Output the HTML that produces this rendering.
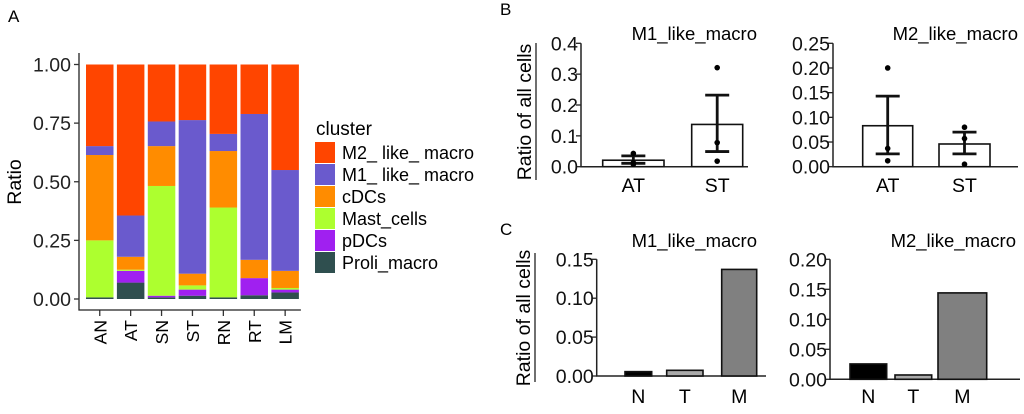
<!DOCTYPE html>
<html><head><meta charset="utf-8">
<style>
html,body{margin:0;padding:0;background:#fff;}
svg{display:block;font-family:"Liberation Sans",Arial,sans-serif;}
</style></head>
<body>
<svg id="fig" width="1024" height="414" viewBox="0 0 1024 414" xmlns="http://www.w3.org/2000/svg">
<text x="8" y="22" font-size="17">A</text>
<text x="500" y="15" font-size="17">B</text>
<text x="500" y="235" font-size="17">C</text>
</svg>
<script>
const NS="http://www.w3.org/2000/svg";
const svg=document.getElementById('fig');
function mk(tag,attrs,parent,txt){const e=document.createElementNS(NS,tag);for(const k in attrs)e.setAttribute(k,attrs[k]);if(txt!==undefined)e.textContent=txt;(parent||svg).appendChild(e);return e;}

// ---------- Panel A data ----------
const aCategories=["AN","AT","SN","ST","RN","RT","LM"];
const aClusters=["Proli_macro","pDCs","Mast_cells","cDCs","M1_ like_ macro","M2_ like_ macro"];
const aProli=[0.007,0.07,0.007,0.014,0.007,0.016,0.028];
const aPDCs=[0.0,0.05,0.007,0.026,0.0,0.073,0.012];
const aMast=[0.243,0.005,0.468,0.018,0.383,0.0,0.007];
const aCDCs=[0.364,0.055,0.17,0.05,0.241,0.078,0.073];
const aM1=[0.038,0.176,0.105,0.655,0.073,0.622,0.43];
const aM2=[0.348,0.644,0.243,0.237,0.296,0.211,0.45];
const aTicks=[0,0.25,0.5,0.75,1];
const aTickLabels=["0.00","0.25","0.50","0.75","1.00"];
const aColors=["#2F4F4F","#A020F0","#ADFF2F","#FF8C00","#6A5ACD","#FF4500"];

// ---------- Panel B data ----------
const bGroups=["AT","ST"];
const bM1Mean=[0.021,0.137];
const bM1Lo=[0.011,0.049];
const bM1Hi=[0.035,0.232];
const bM1Points=[[0.043,0.008,0.013],[0.321,0.078,0.018]];
const bM1Ticks=[0,0.1,0.2,0.3,0.4];
const bM1TickLabels=["0.0","0.1","0.2","0.3","0.4"];
const bM2Mean=[0.083,0.046];
const bM2Lo=[0.026,0.026];
const bM2Hi=[0.143,0.07];
const bM2Points=[[0.2,0.037,0.012],[0.08,0.057,0.005]];
const bM2Ticks=[0,0.05,0.1,0.15,0.2,0.25];
const bM2TickLabels=["0.00","0.05","0.10","0.15","0.20","0.25"];

// ---------- Panel C data ----------
const cGroups=["N","T","M"];
const cM1Values=[0.0056,0.0073,0.137];
const cM1Ticks=[0,0.05,0.1,0.15];
const cM1TickLabels=["0.00","0.05","0.10","0.15"];
const cM2Values=[0.0256,0.0072,0.144];
const cM2Ticks=[0,0.05,0.1,0.15,0.2];
const cM2TickLabels=["0.00","0.05","0.10","0.15","0.20"];
const cColors=["#000000","#aaaaaa","#808080"];

const FS=19.5;

// ===== Panel A =====
(function(){
  const g=mk('g',{});
  
  
  const y0=299,y1=64.5;
  const ys=v=>y0-(y0-y1)*v;
  const x0=86,step=30.9,bw=27.5;
  const series=[aProli,aPDCs,aMast,aCDCs,aM1,aM2];
  aCategories.forEach((c,i)=>{
    let acc=0;const bx=x0+i*step;
    series.forEach((s,k)=>{
      const v=s[i];
      const r=mk('rect',{x:bx,y:ys(acc+v),width:bw,height:Math.max(0,ys(acc)-ys(acc+v)),fill:aColors[k]},g);
      
      
      acc+=v;
    });
    const tk=mk('line',{x1:bx+bw/2,x2:bx+bw/2,y1:310,y2:316,stroke:'#333','stroke-width':1.3},g);
    
    
    const t=mk('text',{x:0,y:0,'font-size':17.5,'text-anchor':'end',transform:`translate(${bx+bw/2+6.5},320) rotate(-90)`},g,c);
    
    
  });
  const ax=mk('polyline',{points:`79,53 79,310 ${x0+6*step+bw+2},310`,fill:'none',stroke:'#222','stroke-width':1.3},g);
  
  
  aTicks.forEach((v,i)=>{
    const l=mk('line',{x1:74,x2:79,y1:ys(v),y2:ys(v),stroke:'#333','stroke-width':1.3},g);
    
    
    const t=mk('text',{x:71,y:ys(v)+7,'font-size':FS,'text-anchor':'end',fill:'#222'},g,aTickLabels[i]);
    
    
  });
  const yl=mk('text',{x:0,y:0,'font-size':FS,'text-anchor':'middle',transform:'translate(21,182) rotate(-90)'},g,'Ratio');
  
  
  const lt=mk('text',{x:316,y:135,'font-size':19},g,'cluster');
  
  
  const order=[5,4,3,2,1,0];
  order.forEach((k,j)=>{
    const yy=142+j*22;
    const r=mk('rect',{x:315,y:yy,width:20,height:21,fill:aColors[k]},g);
    
    
    const t=mk('text',{x:342,y:yy+17,'font-size':18},g,aClusters[k]);
    
    
  });
})();

// ===== generic axis helper for B / C =====
function axisY(g,ax,yZero,yTop,maxV,ticks,labels,xEnd){
  const ys=v=>yZero-(yZero-yTop)*v/maxV;
  const a=mk('polyline',{points:`${ax},${yTop} ${ax},${yZero} ${xEnd},${yZero}`,fill:'none',stroke:'#222','stroke-width':1.5},g);
  
  
  ticks.forEach((v,i)=>{
    const l=mk('line',{x1:ax-5,x2:ax,y1:ys(v),y2:ys(v),stroke:'#222','stroke-width':1.3},g);
    
    
    const t=mk('text',{x:ax-3,y:ys(v)+7,'font-size':FS,'text-anchor':'end',fill:'#111'},g,labels[i]);
    
    
  });
  return ys;
}

// ===== Panel B =====
function drawB(name,ax,maxV,ticks,labels,bars,mean,lo,hi,pts,xEnd,titleX,title){
  const g=mk('g',{});
  
  
  const ys=axisY(g,ax,166.7,43.3,maxV,ticks,labels,xEnd);
  bGroups.forEach((grp,i)=>{
    const [bx,bw]=bars[i];const cx=bx+bw/2;
    const r=mk('rect',{x:bx,y:ys(mean[i]),width:bw,height:166.7-ys(mean[i]),fill:'#fff',stroke:'#111','stroke-width':1.6},g);
    
    
    const e=mk('path',{d:`M${cx},${ys(lo[i])}V${ys(hi[i])}M${cx-12},${ys(hi[i])}H${cx+12}M${cx-12},${ys(lo[i])}H${cx+12}`,stroke:'#111','stroke-width':2.8,fill:'none'},g);
    
    
    pts[i].forEach((p)=>{
      const c=mk('circle',{cx:cx,cy:ys(p),r:2.8,fill:'#000'},g);
      
      
    });
    const t=mk('text',{x:cx,y:192,'font-size':FS,'text-anchor':'middle'},g,grp);
    
    
  });
  const tt=mk('text',{x:titleX,y:40,'font-size':18.5,'text-anchor':'end'},g,title);
  
  
}
drawB('m1-scatter-bar-chart',581,0.4,bM1Ticks,bM1TickLabels,[[602.7,61.3],[691.7,51]],bM1Mean,bM1Lo,bM1Hi,bM1Points,748,757,'M1_like_macro');
drawB('m2-scatter-bar-chart',833,0.25,bM2Ticks,bM2TickLabels,[[862.7,50],[939,51]],bM2Mean,bM2Lo,bM2Hi,bM2Points,1018,1018,'M2_like_macro');
(function(){
  const t=mk('text',{x:0,y:0,'font-size':FS,'text-anchor':'middle',transform:'translate(531,112) rotate(-90)'},svg,'Ratio of all cells');
  
  
  const l=mk('line',{x1:536,x2:536,y1:43,y2:180,stroke:'#222','stroke-width':1.3});
  
  
})();

// ===== Panel C =====
function drawC(name,ax,yZero,yTop,maxV,ticks,labels,bars,vals,xEnd,titleX,title){
  const g=mk('g',{});
  
  
  const ys=axisY(g,ax,yZero,yTop,maxV,ticks,labels,xEnd);
  cGroups.forEach((grp,i)=>{
    const [bx,bw]=bars[i];
    const r=mk('rect',{x:bx,y:ys(vals[i]),width:bw,height:yZero-ys(vals[i]),fill:cColors[i],stroke:'#111','stroke-width':1.6},g);
    
    
    const t=mk('text',{x:bx+bw/2,y:403,'font-size':FS,'text-anchor':'middle'},g,grp);
    
    
  });
  const tt=mk('text',{x:titleX,y:247,'font-size':18.5,'text-anchor':'end'},g,title);
  
  
}
drawC('m1-bar-chart',596.7,376,259.3,0.15,cM1Ticks,cM1TickLabels,[[625,26.7],[666.7,36.3],[721.7,35]],cM1Values,766,757,'M1_like_macro');
drawC('m2-bar-chart',830,379.3,259.3,0.2,cM2Ticks,cM2TickLabels,[[850,36.7],[895,36.7],[938,48.7]],cM2Values,1020,1016,'M2_like_macro');
(function(){
  const t=mk('text',{x:0,y:0,'font-size':FS,'text-anchor':'middle',transform:'translate(530,318) rotate(-90)'},svg,'Ratio of all cells');
  
  
  const l=mk('line',{x1:535,x2:535,y1:253,y2:382,stroke:'#222','stroke-width':1.3});
  
  
})();
</script>
</body></html>
